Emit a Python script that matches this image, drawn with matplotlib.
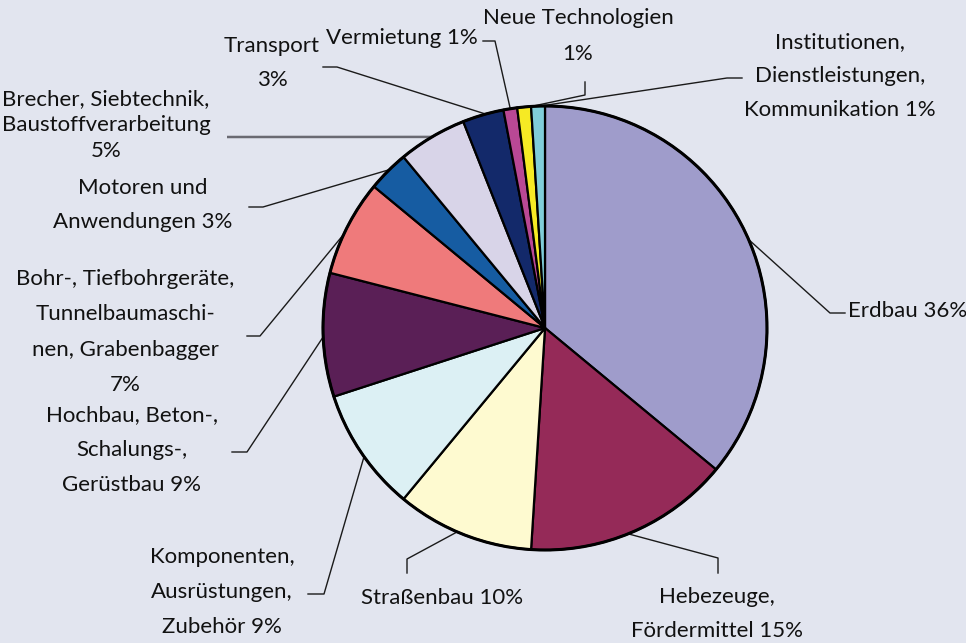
import matplotlib
matplotlib.use("Agg")
import matplotlib.pyplot as plt
import numpy as np
from matplotlib.patches import Circle

# ---- data ----
categories = ["Erdbau", "Hebezeuge, Fördermittel", "Straßenbau",
              "Komponenten, Ausrüstungen, Zubehör",
              "Hochbau, Beton-, Schalungs-, Gerüstbau",
              "Bohr-, Tiefbohrgeräte, Tunnelbaumaschinen, Grabenbagger",
              "Motoren und Anwendungen",
              "Brecher, Siebtechnik, Baustoffverarbeitung",
              "Transport", "Vermietung", "Neue Technologien",
              "Institutionen, Dienstleistungen, Kommunikation"]
shares = [36, 15, 10, 9, 9, 7, 3, 5, 3, 1, 1, 1]
label_texts = ["Erdbau 36%",
               "Hebezeuge,\nFördermittel 15%",
               "Straßenbau 10%",
               "Komponenten,\nAusrüstungen,\nZubehör 9%",
               "Hochbau, Beton-,\nSchalungs-,\nGerüstbau 9%",
               "Bohr-, Tiefbohrgeräte,\nTunnelbaumaschi-\nnen, Grabenbagger\n7%",
               "Motoren und\nAnwendungen 3%",
               "Brecher, Siebtechnik,\nBaustoffverarbeitung\n5%",
               "Transport\n3%",
               "Vermietung 1%",
               "Neue Technologien\n1%",
               "Institutionen,\nDienstleistungen,\nKommunikation 1%"]
colors = ["#9f9ccb", "#952a58", "#fefad0", "#dcf0f4", "#5a1f56", "#ef7a7b",
          "#165ca2", "#d8d4e8", "#13296a", "#b94895", "#f6ea24", "#80cdd8"]

# ---- layout (pixel coordinates, y downward) ----
W, H = 966, 643
BG = "#e2e5ef"
CX, CY, R = 545, 328, 222

# label: (x, y, ha, linespacing)
label_pos = [(848, 311, "left", 1.9),
             (717, 614, "center", 1.85),
             (442, 598, "center", 1.9),
             (222, 592, "center", 1.95),
             (132, 450, "center", 1.95),
             (125, 332, "center", 1.95),
             (143, 205, "center", 1.9),
             (106, 125, "center", 1.4),
             (272, 63, "center", 1.9),
             (402, 38, "center", 1.9),
             (578, 36, "center", 2.0),
             (840, 76, "center", 1.85)]
# leader: start angle (deg clockwise from top), elbow point, end point
leaders = [(66.5, (830, 313), (845, 313)),
           (158.0, (718, 558), (718, 573)),
           (203.3, (407, 559), (407, 573)),
           (234.6, (324, 594), (308, 594)),
           (267.7, (247, 452), (232, 452)),
           (295.0, (260, 336), (247, 336)),
           (315.5, (263, 207), (249, 207)),
           (329.4, (227, 137), (227, 137)),
           (344.5, (337, 67), (323, 67)),
           (351.0, (495, 41), (483, 41)),
           (356.5, (585, 95), (585, 82)),
           (358.8, (727, 78), (742, 78))]

def Y(y):
    return H - y

fig = plt.figure(figsize=(W / 100, H / 100), dpi=100, facecolor=BG)
ax = fig.add_axes([0, 0, 1, 1])
ax.set_facecolor(BG)

ax.pie(shares, colors=colors, startangle=90, counterclock=False,
       center=(CX, Y(CY)), radius=R, frame=True,
       wedgeprops=dict(edgecolor="black", linewidth=1.6, joinstyle="miter"))
ax.add_patch(Circle((CX, Y(CY)), R, fill=False, edgecolor="black", linewidth=2.2, zorder=5))

font = dict(family=["Lato", "DejaVu Sans"], size=16, color="#111111")

for i, (txt, (lx, ly, ha, ls), (ang, elbow, end)) in enumerate(zip(label_texts, label_pos, leaders)):
    t = np.deg2rad(ang)
    sx = CX + R * np.sin(t)
    sy = CY - R * np.cos(t)
    if i == 7:
        ax.plot([end[0], sx], [Y(end[1]), Y(sy)], color="#6a6a72", lw=1.8, zorder=1,
                solid_capstyle="butt")
    else:
        ax.plot([sx, elbow[0], end[0]], [Y(sy), Y(elbow[1]), Y(end[1])],
                color="#1a1a1a", lw=1.0, zorder=1)
    ax.text(lx, Y(ly), txt, ha=ha, va="center", multialignment="center",
            linespacing=ls, **font)

ax.set_xlim(0, W)
ax.set_ylim(0, H)
ax.set_aspect("auto")
ax.axis("off")

fig.savefig("out.png", dpi=100, facecolor=BG)
